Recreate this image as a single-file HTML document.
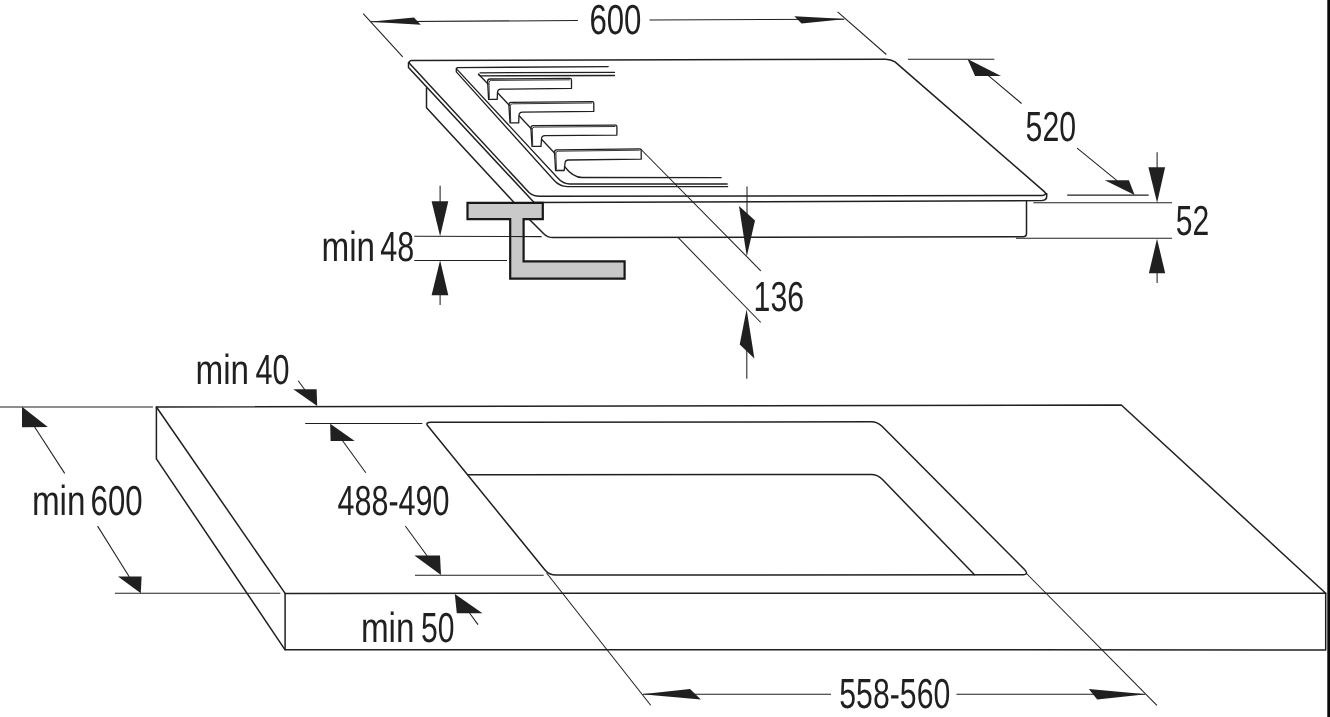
<!DOCTYPE html>
<html><head><meta charset="utf-8"><title>Hob installation dimensions</title>
<style>
html,body{margin:0;padding:0;background:#fff;}
body{width:1330px;height:717px;overflow:hidden;font-family:"Liberation Sans",sans-serif;}
svg{display:block;filter:grayscale(1);}
.k{fill:none;stroke:#231f20;stroke-width:1.5;stroke-linejoin:round;stroke-linecap:round;}
.m{fill:none;stroke:#231f20;stroke-width:1.3;stroke-linejoin:round;stroke-linecap:round;}
.t{fill:none;stroke:#231f20;stroke-width:1.05;stroke-linecap:butt;}
.f{fill:none;stroke:#231f20;stroke-width:1.3;stroke-linejoin:round;}
.h{fill:none;stroke:#231f20;stroke-width:0.9;stroke-linejoin:round;}
.a{fill:#231f20;stroke:none;}
text{font-family:"Liberation Sans",sans-serif;font-size:42px;fill:#231f20;text-rendering:geometricPrecision;}
</style></head>
<body>
<svg width="1330" height="717" viewBox="0 0 1330 717">
<rect x="0" y="0" width="1330" height="717" fill="#fff"/>
<!-- right black bar -->
<rect x="1327.3" y="0" width="2.7" height="717" fill="#0a0a0a"/>

<!-- ================= HOB ================= -->
<g id="hob">
<!-- glass top surface (upper edge) -->
<path class="k" d="M411.5 60.6 L885.5 59.2 Q891 59.2 895 61.9 L1044.3 191.6 Q1047.6 194.8 1042.5 195.4 L540 196.3 Q533 196.3 529 192.5 L409.6 63.6 Q408.4 61 411.5 60.6 Z"/>
<!-- glass thickness -->
<path class="k" d="M408.5 62.5 L408.5 67.4 L533.6 202"/>
<path class="k" d="M533.6 202.6 L1042 200.6 Q1046.7 200.4 1046.7 196.6 L1046.7 193.6"/>
<!-- under box left -->
<path class="k" d="M426.5 88 L426.5 107.7 L513.6 202"/>
<!-- body under glass -->
<path class="k" d="M529.5 219.5 L543.5 233.5 Q547.5 237.6 553 237.6 L1023 236.8 Q1026.5 236.8 1026.5 233.6 L1026.5 201.5"/>
<!-- recess outer edges -->
<path class="m" d="M457.5 67.6 L608.2 66.6"/>
<path class="m" d="M457.7 67.6 Q455.8 68 457.2 69.6 L558 178.3 Q563 184 570 184 L727.2 184"/>
<path class="m" d="M456.3 68.4 L456.3 71.9 L554 180.3 Q559.6 186.6 567.5 186.6 L727.6 186.7"/>
<!-- recess inner lines -->
<path class="m" d="M480 72.8 L614.5 72.4"/>
<path class="m" d="M478.5 74.2 Q479 75.8 481 75.8 L614.5 75.5"/>
<path class="m" d="M478.5 74.2 L488 84"/>
<path class="m" d="M564.5 166.5 Q573 177.5 582 177.5 L721.2 177.6"/>
</g>

<!-- grate fingers -->
<g id="fingers">
<path class="f" id="f1" d="M490 79 L570 78.4 Q571.5 78.4 571.5 80 L571.5 88.4 L501 89.2 Q497.6 89.3 497.5 92.5 L497.2 99.4 L488.6 99.4 L487.6 81.5 Q487.6 79 490 79 Z"/>
<path class="f" d="M511.2 102.4 L592.3 101.6 Q593.8 101.6 593.8 103.2 L593.8 111.4 L522.5 112.2 Q519.1 112.3 519 115.5 L518.7 122.9 L510 122.9 L508.9 104.9 Q508.9 102.4 511.2 102.4 Z"/>
<path class="f" d="M533.2 125.7 L615.4 125.1 Q616.9 125.1 616.9 126.7 L616.9 135.1 L545 135.7 Q541.6 135.8 541.5 139 L541 146.4 L532 146.4 L530.9 128.2 Q530.9 125.7 533.2 125.7 Z"/>
<path class="f" d="M556.6 149.8 L639.7 148.8 Q641.2 148.8 641.2 150.4 L641.2 159.2 L568.5 160 Q565.1 160.1 565 163.3 L564.2 170.5 L555.6 170.5 L554.5 152.3 Q554.5 149.8 556.6 149.8 Z"/>
<!-- inner highlight lines on fingers -->
<path class="h" d="M489.3 98.5 L489 82.5 Q489 80.4 491.4 80.4 L570 79.8"/>
<path class="h" d="M510.7 122 L510.3 105.8 Q510.3 103.8 512.7 103.8 L592.3 103"/>
<path class="h" d="M532.7 145.5 L532.3 129.2 Q532.3 127.1 534.7 127.1 L615.4 126.5"/>
<path class="h" d="M556.4 169.6 L555.9 153.3 Q555.9 151.2 558.3 151.2 L639.7 150.2"/>
<!-- connecting diagonals -->
<path class="m" d="M497.8 93 L509.5 105.5"/>
<path class="m" d="M519.3 116 L531.5 129"/>
<path class="m" d="M541.8 139.5 L555 153.5"/>
</g>

<!-- bracket -->
<path d="M467.5 202.8 H542.8 V219.2 H523.6 V261.3 H624.6 V278.6 H510.2 V219.2 H467.5 Z" fill="#c8c9cb" stroke="#1a1718" stroke-width="2.2" stroke-linejoin="miter"/>

<!-- ================= HOB DIMENSIONS ================= -->
<g id="hobdims">
<!-- 600 -->
<path class="t" d="M363.2 13.6 L402.7 56.8"/>
<path class="t" d="M837.6 11.8 L886.3 54.5"/>
<path class="t" d="M370.5 21.7 L577.9 20.5"/>
<path class="t" d="M649.5 20 L844 19.2"/>
<path class="a" d="M369.6 21.7 L414 17.5 L420.8 24.7 Z"/>
<path class="a" d="M846.3 19.1 L794.3 16.3 L801.6 23.4 Z"/>
<!-- 520 -->
<path class="t" d="M907.9 59.3 L994.3 59.3"/>
<path class="t" d="M1067.2 195.1 L1148.7 195.1"/>
<path class="t" d="M987.5 74.8 L1021.6 103.5"/>
<path class="t" d="M1077.1 148.2 L1117.3 180.8"/>
<path class="a" d="M967.5 59.1 L1001 75.9 L975.1 75.9 Z"/>
<path class="a" d="M1134.6 195 L1104.8 180.2 L1128.9 180.2 Z"/>
<!-- 52 -->
<path class="t" d="M1033.4 202.8 L1172 202.8"/>
<path class="t" d="M1016 238.2 L1172 238.2"/>
<path class="t" d="M1157.1 152.2 L1157.1 170"/>
<path class="t" d="M1157.1 270 L1157.1 283"/>
<path class="a" d="M1157.1 202.8 L1148.4 167.2 L1165.1 167.2 Z"/>
<path class="a" d="M1157 238.7 L1148.9 273.3 L1165.2 273.3 Z"/>
<!-- 136 -->
<path class="t" d="M640.6 149 L760.8 270.8"/>
<path class="t" d="M678.2 237.7 L760.8 322.5"/>
<path class="t" d="M747 186.5 L747 215"/>
<path class="t" d="M746.8 350 L746.8 378.7"/>
<path class="a" d="M746.8 256.5 L739 206 L755 220.4 Z"/>
<path class="a" d="M746.6 309.3 L739.7 344.6 L754.4 358.6 Z"/>
<!-- min 48 -->
<path class="t" d="M414.3 236.3 L541.6 236.6"/>
<path class="t" d="M414.3 260.5 L507 260.5"/>
<path class="t" d="M440.1 185.8 L440.1 203"/>
<path class="t" d="M440.1 293 L440.1 305"/>
<path class="a" d="M440.1 236.2 L431.6 201.2 L448.3 201.2 Z"/>
<path class="a" d="M440.1 260.2 L431.6 295.3 L448.3 295.3 Z"/>
</g>

<!-- ================= COUNTERTOP ================= -->
<g id="counter">
<path class="k" d="M156.4 407 L1121.3 405 L1325.7 593.2 L285.1 593.4 Z"/>
<path class="k" d="M156.4 407 L156.4 458.9 L285.1 649.8 L1325.7 649.9 L1325.7 593.2"/>
<path class="k" d="M285.1 593.4 L285.1 649.8"/>
<!-- cutout -->
<path class="k" d="M431 422.3 L871 421.8 Q877.5 421.8 882 426.3 L1024.5 569.5 Q1029.5 574.8 1022 574.8 L556 575 Q549 575 545 570 L427.5 425.5 Q425.3 422.4 431 422.3 Z"/>
<path class="k" d="M467.8 474.8 L871 474.5 Q877.5 474.5 882 479 L974.5 574.8"/>
</g>

<!-- ================= COUNTER DIMENSIONS ================= -->
<g id="cdims">
<!-- min 600 -->
<path class="t" d="M0 407 L152.9 407"/>
<path class="t" d="M114.9 593.3 L280.3 593.3"/>
<path class="t" d="M34 426 L64.7 473.4"/>
<path class="t" d="M97.6 526.1 L130 578"/>
<path class="a" d="M22 406.8 L22 427.2 L47.8 427 Z"/>
<path class="a" d="M140.8 593.3 L141.6 576.5 L118 576.5 Z"/>
<!-- min 40 -->
<path class="t" d="M298.2 380.8 L305 390"/>
<path class="a" d="M317.2 405.9 L316.6 389.3 L293.3 389.3 Z"/>
<!-- 488-490 -->
<path class="t" d="M305.2 423.4 L422.3 423.4"/>
<path class="t" d="M415 575.2 L543.7 575.2"/>
<path class="t" d="M342.4 440.5 L365.8 472.7"/>
<path class="t" d="M405.3 526 L427.2 556"/>
<path class="a" d="M330.2 423.8 L330.6 440.9 L354.7 440.9 Z"/>
<path class="a" d="M441 575 L414.4 555.5 L440 555.5 Z"/>
<!-- min 50 -->
<path class="t" d="M469.5 613 L478 624.6"/>
<path class="a" d="M454.8 594 L456.8 613.3 L482.5 613.3 Z"/>
<!-- 558-560 -->
<path class="t" d="M546.6 573 L650.7 705.3"/>
<path class="t" d="M1026 573 L1156.9 705.4"/>
<path class="t" d="M643 694.3 L831 694.3"/>
<path class="t" d="M956.5 694.3 L1145 694.3"/>
<path class="a" d="M641.7 694.3 L690 688.9 L700.9 699.5 Z"/>
<path class="a" d="M1146 694.3 L1088.8 688.9 L1097.2 699.5 Z"/>
</g>

<!-- ================= TEXT ================= -->
<g id="labels">
<text id="t600" x="589.4" y="33.6" textLength="52" lengthAdjust="spacingAndGlyphs">600</text>
<text id="t520" x="1025.6" y="141.3" textLength="50.5" lengthAdjust="spacingAndGlyphs">520</text>
<text id="t52" x="1175.8" y="234.6" textLength="33.5" lengthAdjust="spacingAndGlyphs">52</text>
<text id="t136" x="753.6" y="310.9" textLength="50.5" lengthAdjust="spacingAndGlyphs">136</text>
<text id="m48" x="321.5" y="260.7" textLength="53.6" lengthAdjust="spacingAndGlyphs">min</text>
<text id="d48" x="380.3" y="260.7" textLength="34" lengthAdjust="spacingAndGlyphs">48</text>
<text id="m40" x="195.5" y="383.7" textLength="53.6" lengthAdjust="spacingAndGlyphs">min</text>
<text id="d40" x="255.6" y="383.7" textLength="34" lengthAdjust="spacingAndGlyphs">40</text>
<text id="m600" x="31.9" y="515.3" textLength="53.6" lengthAdjust="spacingAndGlyphs">min</text>
<text id="d600" x="90.6" y="515.3" textLength="52" lengthAdjust="spacingAndGlyphs">600</text>
<text id="t488" x="337.5" y="515.4" textLength="112" lengthAdjust="spacingAndGlyphs">488-490</text>
<text id="m50" x="360.9" y="642.3" textLength="53.6" lengthAdjust="spacingAndGlyphs">min</text>
<text id="d50" x="420.9" y="642.3" textLength="33.5" lengthAdjust="spacingAndGlyphs">50</text>
<text id="t558" x="839.3" y="707.9" textLength="111" lengthAdjust="spacingAndGlyphs">558-560</text>
</g>
</svg>
</body></html>
